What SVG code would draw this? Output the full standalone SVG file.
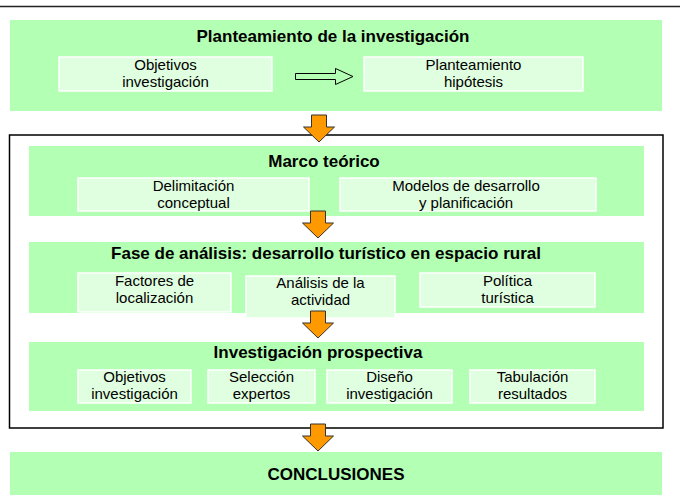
<svg xmlns="http://www.w3.org/2000/svg" width="680" height="495" viewBox="0 0 680 495">
<style>
.bg{fill:#b3ffb3;}
.sub{fill:#e0ffe0;stroke:#ffffff;stroke-width:1.5;}
.t{font-family:"Liberation Sans",Arial,sans-serif;font-size:17px;font-weight:bold;fill:#000;text-anchor:middle;}
.s{font-family:"Liberation Sans",Arial,sans-serif;font-size:15px;fill:#000;text-anchor:middle;}
.oa{fill:#ff9900;stroke:#333;stroke-width:1;stroke-linejoin:miter;}
</style>
<defs>
<path id="down" d="M-7.5,0 H7.5 V12 H15.5 L0,27 L-15.5,12 H-7.5 Z"/>
</defs>
<rect x="0" y="0" width="680" height="495" fill="#ffffff"/>
<line x1="0" y1="6.5" x2="680" y2="6.5" stroke="#222" stroke-width="1.5"/>

<g id="outer">
<rect x="9.5" y="135" width="653.5" height="293" fill="none" stroke="#000" stroke-width="1.5"/>
</g>

<g id="planteamiento">
<rect class="bg" x="10" y="20" width="652" height="91"/>
<text class="t" x="333" y="42">Planteamiento de la investigación</text>
</g>
<g id="objetivos1">
<rect class="sub" x="59" y="57" width="213" height="34"/>
<text class="s" x="165.5" y="70">Objetivos</text>
<text class="s" x="165.5" y="87">investigación</text>
</g>
<g id="hipotesis">
<rect class="sub" x="364" y="57" width="219" height="34"/>
<text class="s" x="473.5" y="70">Planteamiento</text>
<text class="s" x="473.5" y="87">hipótesis</text>
</g>

<g id="marco">
<rect class="bg" x="29" y="146" width="615" height="70"/>
<text class="t" x="324" y="167">Marco teórico</text>
</g>
<g id="delimitacion">
<rect class="sub" x="78" y="178" width="231" height="33"/>
<text class="s" x="193.5" y="190.5">Delimitación</text>
<text class="s" x="193.5" y="207.5">conceptual</text>
</g>
<g id="modelos">
<rect class="sub" x="340" y="178" width="256" height="33"/>
<text class="s" x="466" y="190.5">Modelos de desarrollo</text>
<text class="s" x="466" y="207.5">y planificación</text>
</g>

<g id="fase">
<rect class="bg" x="29" y="242" width="615" height="71"/>
<text class="t" x="326" y="259">Fase de análisis: desarrollo turístico en espacio rural</text>
</g>
<g id="factores">
<rect class="sub" x="78" y="273" width="153" height="39"/>
<text class="s" x="154.5" y="286">Factores de</text>
<text class="s" x="154.5" y="303">localización</text>
</g>
<g id="analisis">
<rect class="sub" x="246" y="276" width="149" height="42"/>
<text class="s" x="320.5" y="288">Análisis de la</text>
<text class="s" x="320.5" y="305">actividad</text>
</g>
<g id="politica">
<rect class="sub" x="420" y="273" width="175" height="34"/>
<text class="s" x="507.5" y="286">Política</text>
<text class="s" x="507.5" y="303">turística</text>
</g>

<g id="prospectiva">
<rect class="bg" x="29" y="342" width="615" height="69"/>
<text class="t" x="318" y="358">Investigación prospectiva</text>
</g>
<g id="objetivos2">
<rect class="sub" x="78" y="370" width="113" height="33"/>
<text class="s" x="134.5" y="382">Objetivos</text>
<text class="s" x="134.5" y="399">investigación</text>
</g>
<g id="seleccion">
<rect class="sub" x="208" y="370" width="107" height="33"/>
<text class="s" x="261.5" y="382">Selección</text>
<text class="s" x="261.5" y="399">expertos</text>
</g>
<g id="diseno">
<rect class="sub" x="327" y="370" width="125" height="33"/>
<text class="s" x="389.5" y="382">Diseño</text>
<text class="s" x="389.5" y="399">investigación</text>
</g>
<g id="tabulacion">
<rect class="sub" x="470" y="370" width="125" height="33"/>
<text class="s" x="532.5" y="382">Tabulación</text>
<text class="s" x="532.5" y="399">resultados</text>
</g>

<g id="conclusiones">
<rect class="bg" x="10" y="452" width="652" height="43"/>
<text class="t" x="336" y="480">CONCLUSIONES</text>
</g>

<g id="connectors">
<path d="M295.5,73.5 H335.5 V68.5 L353,76.5 L335.5,84.5 V79.5 H295.5 Z" fill="none" stroke="#000" stroke-width="1"/>
<use href="#down" class="oa" transform="translate(319,115)"/>
<use href="#down" class="oa" transform="translate(318,211)"/>
<use href="#down" class="oa" transform="translate(318,311)"/>
<use href="#down" class="oa" transform="translate(318,424)"/>
</g>
</svg>
